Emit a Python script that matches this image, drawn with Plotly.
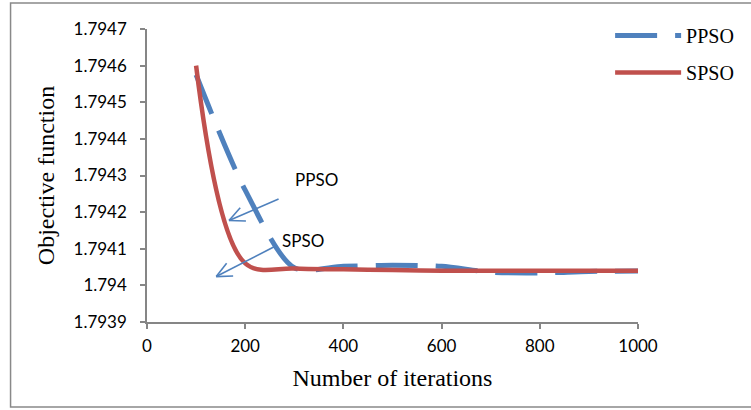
import math
import plotly.graph_objects as go

# ---- data -------------------------------------------------------------
iterations = [100, 200, 300, 400, 500, 600, 700, 800, 900, 1000]
ppso = [1.794575, 1.794260, 1.794048, 1.794052, 1.794055, 1.794052,
        1.794036, 1.794034, 1.794038, 1.794039]
spso = [1.794600, 1.794060, 1.794046, 1.794044, 1.794042, 1.794040,
        1.794040, 1.794040, 1.794040, 1.794040]

x_ticks = [0, 200, 400, 600, 800, 1000]
y_ticks = [1.7939, 1.7940, 1.7941, 1.7942, 1.7943, 1.7944, 1.7945, 1.7946, 1.7947]
y_tick_text = ["1.7939", "1.794", "1.7941", "1.7942", "1.7943", "1.7944",
               "1.7945", "1.7946", "1.7947"]

# callout labels: (text, label position, arrow tail, arrow tip) in data units
callouts = [
    ("PPSO", (345, 1.794289), (268, 1.794236), (167, 1.794177)),
    ("SPSO", (318, 1.794122), (260, 1.794106), (141, 1.794024)),
]

# ---- layout constants -------------------------------------------------
W, H = 751, 410
M_L, M_R, M_T, M_B = 147, 111, 29, 88
X_RANGE = [0, 1000]
Y_RANGE = [1.7939, 1.7947]
PLOT_W = W - M_L - M_R
PLOT_H = H - M_T - M_B
PX_X = PLOT_W / (X_RANGE[1] - X_RANGE[0])
PX_Y = PLOT_H / (Y_RANGE[1] - Y_RANGE[0])

BLUE = "#4F81BD"
RED = "#C0504D"
AXIS_GREY = "#868686"
SANS = "Lato, 'Open Sans', sans-serif"
SERIF = "'Liberation Serif', 'Times New Roman', serif"

fig = go.Figure()
fig.add_trace(go.Scatter(
    x=iterations, y=ppso, mode="lines", name="PPSO", legendgroup="p",
    line=dict(color=BLUE, width=5, dash="42px,18px", shape="spline", smoothing=0.8),
))
fig.add_trace(go.Scatter(
    x=iterations, y=spso, mode="lines", name="SPSO", legendgroup="s",
    line=dict(color=RED, width=4.5, shape="spline", smoothing=1.0),
))


def arrow_shapes(tail, tip, color, head_len=17, head_angle=25):
    """Straight arrow with an open V head, built in data units."""
    shapes = [dict(type="line", xref="x", yref="y",
                   x0=tail[0], y0=tail[1], x1=tip[0], y1=tip[1],
                   line=dict(color=color, width=1.6))]
    dx = (tip[0] - tail[0]) * PX_X
    dy = (tip[1] - tail[1]) * PX_Y
    back = math.atan2(dy, dx) + math.pi
    for sign in (-1, 1):
        a = back + sign * math.radians(head_angle)
        wx = tip[0] + head_len * math.cos(a) / PX_X
        wy = tip[1] + head_len * math.sin(a) / PX_Y
        shapes.append(dict(type="line", xref="x", yref="y",
                           x0=tip[0], y0=tip[1], x1=wx, y1=wy,
                           line=dict(color=color, width=1.6)))
    return shapes


shapes = []
annotations = []
for text, pos, tail, tip in callouts:
    shapes += arrow_shapes(tail, tip, BLUE)
    annotations.append(dict(x=pos[0], y=pos[1], xref="x", yref="y", text=text,
                            showarrow=False, font=dict(family=SANS, size=17, color="#000")))


def px_to_paper_x(px):
    return (px - M_L) / PLOT_W


def px_to_paper_y(py):
    return (H - M_B - py) / PLOT_H


# outer chart frame
shapes.append(dict(type="rect", xref="paper", yref="paper", layer="below",
                   x0=px_to_paper_x(10), x1=px_to_paper_x(770),
                   y0=px_to_paper_y(407), y1=px_to_paper_y(3),
                   line=dict(color="#898989", width=1.5), fillcolor="rgba(0,0,0,0)"))

fig.update_layout(
    width=W, height=H, autosize=False,
    margin=dict(l=M_L, r=M_R, t=M_T, b=M_B),
    paper_bgcolor="white", plot_bgcolor="white",
    showlegend=True,
    legend=dict(x=px_to_paper_x(612), y=px_to_paper_y(16), xanchor="left", yanchor="top",
                font=dict(family=SERIF, size=20, color="#000"),
                itemwidth=66, tracegroupgap=8, bgcolor="rgba(0,0,0,0)"),
    shapes=shapes,
    annotations=annotations,
    xaxis=dict(range=X_RANGE, tickvals=x_ticks, showgrid=False, zeroline=False,
               showline=True, linecolor=AXIS_GREY, linewidth=1.5,
               ticks="outside", ticklen=5, tickcolor=AXIS_GREY, tickwidth=1.5,
               ticklabelstandoff=3,
               tickfont=dict(family=SANS, size=17, color="#000"),
               title=dict(text="Number of iterations", standoff=14,
                          font=dict(family=SERIF, size=24, color="#000"))),
    yaxis=dict(range=Y_RANGE, tickvals=y_ticks, ticktext=y_tick_text, showgrid=False,
               zeroline=False, showline=True, linecolor=AXIS_GREY, linewidth=1.5,
               ticks="outside", ticklen=5, tickcolor=AXIS_GREY, tickwidth=1.5,
               ticklabelstandoff=10,
               tickfont=dict(family=SANS, size=17, color="#000"),
               title=dict(text="Objective function", standoff=12,
                          font=dict(family=SERIF, size=24, color="#000"))),
)

fig.write_html("out.html")
